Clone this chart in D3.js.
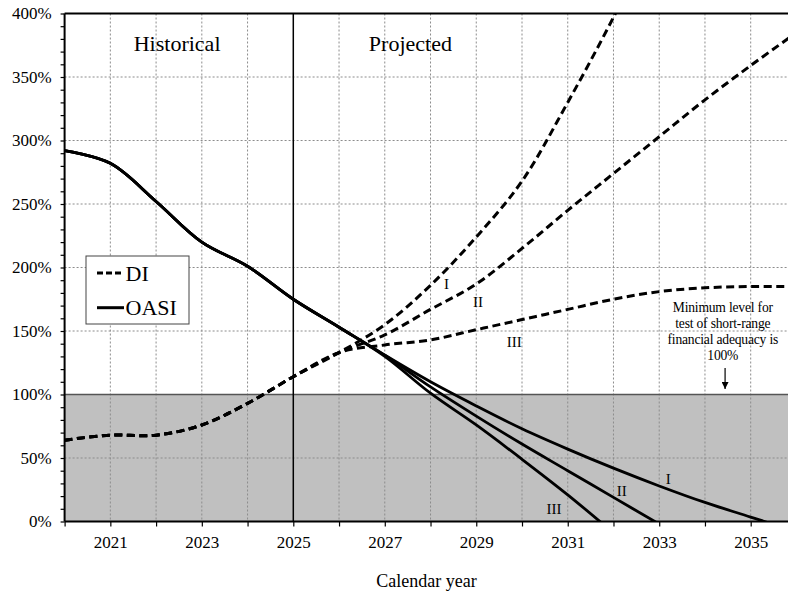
<!DOCTYPE html>
<html>
<head>
<meta charset="utf-8">
<script src="https://cdn.jsdelivr.net/npm/d3@7/dist/d3.min.js"></script>
<style>
  html, body { margin: 0; padding: 0; background: #fff; }
  svg { display: block; }
  svg text { font-family: "Liberation Serif", "Times New Roman", serif; }
</style>
</head>
<body>
<svg id="chart" width="788" height="595"></svg>
<script>
// ---------- data ----------
const histYears = [2020, 2021, 2022, 2023, 2024, 2025];
const diHist    = [64, 68, 68, 76, 93, 114];
const oasiHist  = [292, 282, 252, 220, 201, 175];

const projYears = [2025, 2026, 2027, 2028, 2029, 2030, 2031, 2032, 2033, 2034, 2035, 2036];
const diI    = [114, 133, 155, 186, 224, 268, 330, 397, 470];
const diII   = [114, 133, 147, 167, 187, 215, 245, 274, 303, 332, 359, 385];
const diIII  = [114, 133, 139, 143, 151, 159, 167, 175, 181, 184, 185, 185];
const oasiI   = [175, 153, 131, 110, 91, 73, 57, 42, 28, 15, 3.5, -8];
const oasiII  = [175, 153, 131, 106, 83, 61, 40, 19, -2];
const oasiIII = [175, 153, 130, 101, 76, 49, 21, -9];

const yTickValues = d3.range(0, 401, 10);
const yLabelValues = [0, 50, 100, 150, 200, 250, 300, 350, 400];
const xTickValues = d3.range(2020, 2036);
const xLabelValues = [2021, 2023, 2025, 2027, 2029, 2031, 2033, 2035];
const legendItems = ["DI", "OASI"];
const altLabels = ["I", "II", "III"];

// ---------- layout ----------
(function () {
const W = 788, H = 595;
const mLeft = 64.6, mTop = 13.5, mBottom = 521.5;
const yearPx = 45.74;
const svg = d3.select("#chart");

const x = d3.scaleLinear().domain([2020, 2036]).range([mLeft, mLeft + 16 * yearPx]);
const y = d3.scaleLinear().domain([0, 400]).range([mBottom, mTop]);

const defs = svg.append("defs");
defs.append("clipPath").attr("id", "plotclip")
  .append("rect").attr("x", mLeft).attr("y", mTop).attr("width", W - mLeft).attr("height", mBottom - mTop);

// shaded region below 100%
svg.append("rect")
  .attr("x", mLeft).attr("y", y(100))
  .attr("width", W - mLeft).attr("height", y(0) - y(100))
  .attr("fill", "#c0c0c0");

// grid
const grid = svg.append("g");
grid.selectAll("line.h").data([50, 150, 200, 250, 300, 350]).join("line")
  .attr("x1", mLeft).attr("x2", W).attr("y1", d => y(d)).attr("y2", d => y(d))
  .attr("stroke", "#8c8c8c").attr("stroke-width", 1).attr("stroke-dasharray", "2,2");
grid.selectAll("line.v").data(xTickValues.filter(d => d > 2020 && d !== 2025)).join("line")
  .attr("x1", d => x(d)).attr("x2", d => x(d)).attr("y1", mTop).attr("y2", mBottom)
  .attr("stroke", "#8c8c8c").attr("stroke-width", 1).attr("stroke-dasharray", "2,2");

// 100% line
svg.append("line").attr("x1", mLeft).attr("x2", W).attr("y1", y(100)).attr("y2", y(100))
  .attr("stroke", "#555").attr("stroke-width", 1.5);

// historical/projected divider
svg.append("line").attr("x1", x(2025)).attr("x2", x(2025)).attr("y1", mTop).attr("y2", mBottom)
  .attr("stroke", "#000").attr("stroke-width", 1.5);

// top border
svg.append("line").attr("x1", mLeft).attr("x2", W).attr("y1", y(400)).attr("y2", y(400))
  .attr("stroke", "#000").attr("stroke-width", 2);

// axes
const yAxis = d3.axisLeft(y).tickValues(yTickValues).tickSize(4).tickPadding(9)
  .tickFormat(d => yLabelValues.includes(d) ? d + "%" : "");
const gy = svg.append("g").attr("transform", `translate(${mLeft},0)`).call(yAxis);
gy.attr("font-family", null).attr("font-size", null);
gy.select(".domain").remove();
gy.selectAll(".tick line").attr("stroke", "#000").attr("stroke-width", 1.2);
gy.selectAll("text").attr("font-size", 17).attr("fill", "#000");

const xAxis = d3.axisBottom(x).tickValues(xTickValues).tickSize(5).tickPadding(9.5)
  .tickFormat(d => xLabelValues.includes(d) ? String(d) : "");
const gx = svg.append("g").attr("transform", `translate(0,${mBottom})`).call(xAxis);
gx.attr("font-family", null).attr("font-size", null);
gx.select(".domain").remove();
gx.selectAll(".tick line").attr("stroke", "#000").attr("stroke-width", 1.2);
gx.selectAll("text").attr("font-size", 17).attr("fill", "#000");

svg.append("line").attr("x1", mLeft).attr("x2", mLeft).attr("y1", mTop).attr("y2", mBottom)
  .attr("stroke", "#000").attr("stroke-width", 2);
svg.append("line").attr("x1", mLeft).attr("x2", W).attr("y1", mBottom).attr("y2", mBottom)
  .attr("stroke", "#000").attr("stroke-width", 2);

// series
function series(hist, proj) {
  const pts = histYears.map((yr, i) => [yr, hist[i]]);
  proj.forEach((v, i) => { if (i > 0) pts.push([projYears[i], v]); });
  return pts;
}
const line = d3.line().x(d => x(d[0])).y(d => y(d[1])).curve(d3.curveCatmullRom.alpha(0.5));
const lines = svg.append("g").attr("clip-path", "url(#plotclip)");

[oasiI, oasiII, oasiIII].forEach(p => {
  lines.append("path").attr("d", line(series(oasiHist, p)))
    .attr("fill", "none").attr("stroke", "#000").attr("stroke-width", 2.8)
    .attr("stroke-linejoin", "round");
});
[diI, diII, diIII].forEach(p => {
  lines.append("path").attr("d", line(series(diHist, p)))
    .attr("fill", "none").attr("stroke", "#000").attr("stroke-width", 3)
    .attr("stroke-dasharray", "8,4.5");
});

// alternative labels
const labelPos = [
  { t: altLabels[0], yr: 2028.35, v: 182.8 },
  { t: altLabels[1], yr: 2029.04, v: 169.1 },
  { t: altLabels[2], yr: 2029.83, v: 137.6 },
  { t: altLabels[0], yr: 2033.2, v: 29.5 },
  { t: altLabels[1], yr: 2032.18, v: 20.3 },
  { t: altLabels[2], yr: 2030.7, v: 5.9 }
];
svg.append("g").selectAll("text").data(labelPos).join("text")
  .attr("x", d => x(d.yr)).attr("y", d => y(d.v))
  .attr("text-anchor", "middle").attr("font-size", 15).attr("fill", "#000")
  .text(d => d.t);

// period labels
svg.append("text").attr("x", x(2022.46)).attr("y", y(370.5)).attr("text-anchor", "middle")
  .attr("font-size", 22).text("Historical");
svg.append("text").attr("x", x(2027.56)).attr("y", y(370.5)).attr("text-anchor", "middle")
  .attr("font-size", 22).text("Projected");

// annotation
const noteLines = ["Minimum level for", "test of short-range", "financial adequacy is", "100%"];
svg.append("g").selectAll("text").data(noteLines).join("text")
  .attr("x", x(2034.39)).attr("y", (d, i) => 312 + i * 15.9)
  .attr("text-anchor", "middle").attr("font-size", 13.6).attr("letter-spacing", "-0.2")
  .text(d => d);
defs.append("marker").attr("id", "arrow")
  .attr("viewBox", "0 0 10 10").attr("refX", 10).attr("refY", 5)
  .attr("markerWidth", 7).attr("markerHeight", 7).attr("orient", "auto")
  .attr("markerUnits", "userSpaceOnUse")
  .append("path").attr("d", "M0,0 L10,5 L0,10 z").attr("fill", "#000");
svg.append("line").attr("x1", x(2034.44)).attr("x2", x(2034.44))
  .attr("y1", 368).attr("y2", 389)
  .attr("stroke", "#000").attr("stroke-width", 1.2).attr("marker-end", "url(#arrow)");

// x axis title
svg.append("text").attr("x", 426.5).attr("y", 587).attr("text-anchor", "middle")
  .attr("font-size", 18).text("Calendar year");

// legend
const lg = svg.append("g");
lg.append("rect").attr("x", 86).attr("y", 256).attr("width", 103).attr("height", 68)
  .attr("fill", "#fff").attr("stroke", "#444").attr("stroke-width", 1);
legendItems.forEach((name, i) => {
  const cy = 273 + i * 34.7;
  lg.append("line").attr("x1", 97).attr("x2", 124).attr("y1", cy).attr("y2", cy)
    .attr("stroke", "#000").attr("stroke-width", 3)
    .attr("stroke-dasharray", i === 0 ? "6,3" : null);
  lg.append("text").attr("x", 125.5).attr("y", cy + 7.5).attr("font-size", 22).text(name);
});
})();
</script>
</body>
</html>
